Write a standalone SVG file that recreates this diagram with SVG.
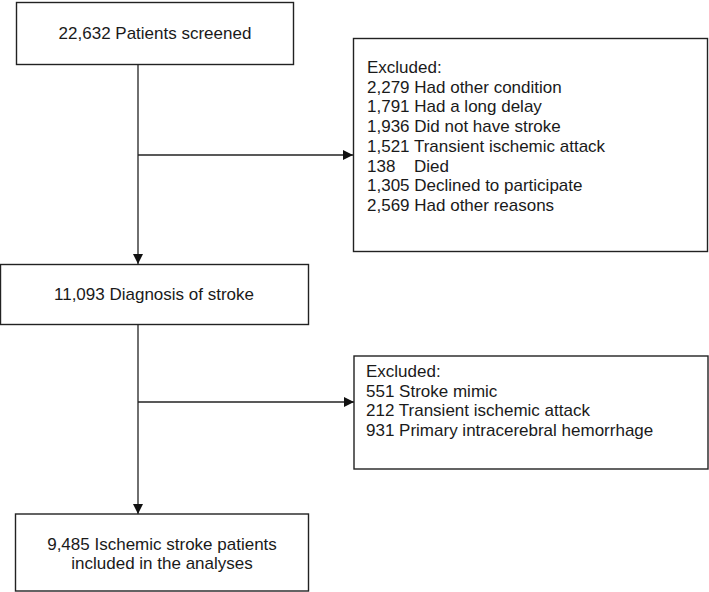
<svg xmlns="http://www.w3.org/2000/svg" width="709" height="592" viewBox="0 0 709 592">
<style>
.box{fill:#fff;stroke:#222;stroke-width:1.4}
.t{font-family:"Liberation Sans",Arial,sans-serif;font-size:17px;fill:#1a1a1a}
.c{text-anchor:middle}
.ln{fill:none;stroke:#222;stroke-width:1.3}
</style>
<defs>
<marker id="ah" viewBox="0 0 10 10" markerUnits="userSpaceOnUse" markerWidth="10" markerHeight="10" refX="10" refY="5" orient="auto">
<path d="M0,0 L10,5 L0,10 z" fill="#111"/>
</marker>
</defs>
<rect width="709" height="592" fill="#fff"/>
<g id="connectors">
<path class="ln" d="M138,64 V264" marker-end="url(#ah)"/>
<path class="ln" d="M138,155 H353" marker-end="url(#ah)"/>
<path class="ln" d="M138,324 V514" marker-end="url(#ah)"/>
<path class="ln" d="M138,402 H354" marker-end="url(#ah)"/>
</g>
<g id="screened">
<rect class="box" x="16.5" y="2.5" width="277" height="62"/>
<text class="t c" x="155" y="39">22,632 Patients screened</text>
</g>
<g id="excluded1">
<rect class="box" x="353.5" y="38.5" width="354" height="213"/>
<text class="t" x="367" y="73">Excluded:</text>
<text class="t" x="367" y="93">2,279 Had other condition</text>
<text class="t" x="367" y="112">1,791 Had a long delay</text>
<text class="t" x="367" y="132">1,936 Did not have stroke</text>
<text class="t" x="367" y="152">1,521 Transient ischemic attack</text>
<text class="t" y="172"><tspan x="367">138</tspan><tspan x="414">Died</tspan></text>
<text class="t" x="367" y="191">1,305 Declined to participate</text>
<text class="t" x="367" y="211">2,569 Had other reasons</text>
</g>
<g id="diagnosis">
<rect class="box" x="0.5" y="264.5" width="308" height="60"/>
<text class="t c" x="154" y="300">11,093 Diagnosis of stroke</text>
</g>
<g id="excluded2">
<rect class="box" x="354" y="356" width="354" height="113"/>
<text class="t" x="366" y="377">Excluded:</text>
<text class="t" x="366" y="397">551 Stroke mimic</text>
<text class="t" x="366" y="416">212 Transient ischemic attack</text>
<text class="t" x="366" y="436">931 Primary intracerebral hemorrhage</text>
</g>
<g id="included">
<rect class="box" x="15.5" y="514" width="293" height="77"/>
<text class="t c" x="162" y="550">9,485 Ischemic stroke patients</text>
<text class="t c" x="162" y="569">included in the analyses</text>
</g>
</svg>
